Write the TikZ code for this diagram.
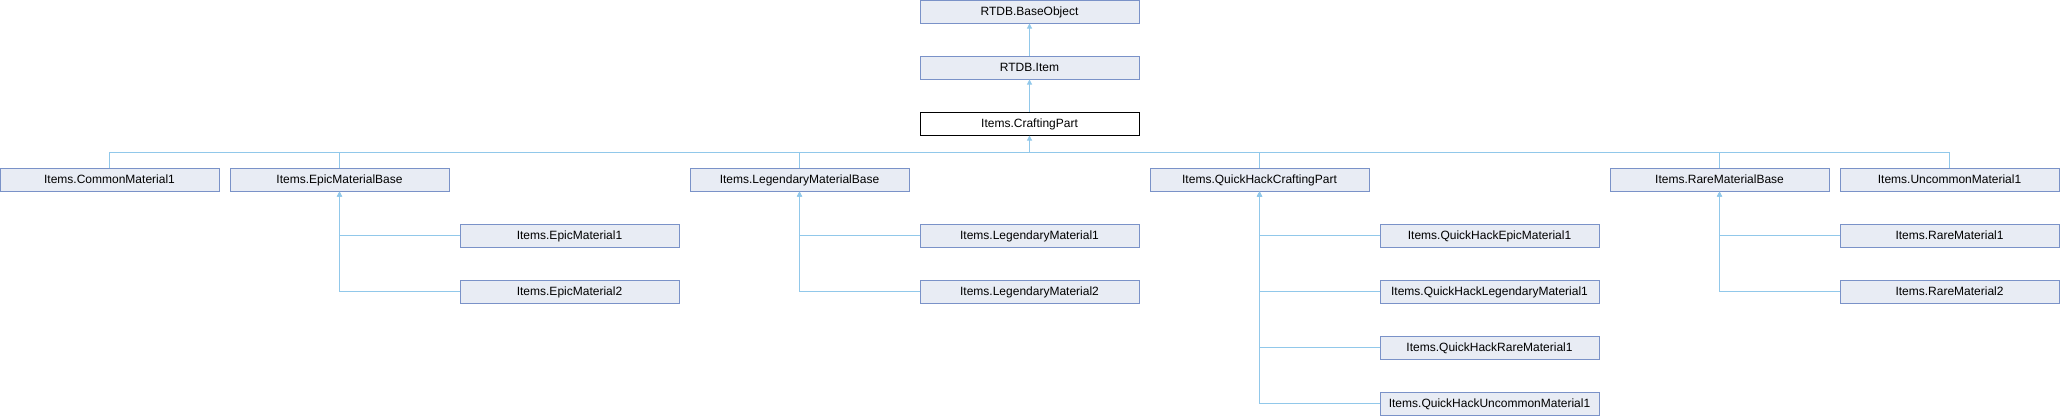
\documentclass[tikz,border=0pt]{standalone}
\usepackage{fontspec}
\setmainfont{Liberation Sans}
\usetikzlibrary{arrows.meta,positioning}
\definecolor{boxfill}{RGB}{232,236,244}
\definecolor{boxline}{RGB}{122,146,200}
\definecolor{inhline}{RGB}{145,200,234}

\begin{document}
\begin{tikzpicture}[x=1pt,y=-1pt,
    cls/.style={draw=boxline,fill=boxfill,line width=1pt,minimum width=219pt,
      minimum height=23pt,inner sep=0pt,text height=8.6pt,text depth=0pt,
      font=\fontsize{12}{14}\selectfont},
    inh/.style={draw=inhline,line width=1pt},
    tip/.style={inh,{Triangle[length=5pt,width=5pt]}-}]
  \useasboundingbox (0,0) rectangle (2060,416);

  \node[cls] (BO) at (1029.5,11.5) {RTDB.BaseObject};
  \node[cls] (It) at (1029.5,67.5) {RTDB.Item};
  \node[cls,draw=black,fill=white] (CP) at (1029.5,123.5) {Items.CraftingPart};
  \coordinate (bus) at (1029.5,152);

  \begin{scope}[every node/.style={cls}]
    \node (Common) at (109.5,179.5) {Items.CommonMaterial1};
    \node (EpicB) at (339.5,179.5) {Items.EpicMaterialBase};
    \node (LegB) at (799.5,179.5) {Items.LegendaryMaterialBase};
    \node (QHB) at (1259.5,179.5) {Items.QuickHackCraftingPart};
    \node (RareB) at (1719.5,179.5) {Items.RareMaterialBase};
    \node (Unc) at (1949.5,179.5) {Items.UncommonMaterial1};

    \node (Epic1) at (569.5,235.5) {Items.EpicMaterial1};
    \node (Epic2) at (569.5,291.5) {Items.EpicMaterial2};
    \node (Leg1) at (1029.5,235.5) {Items.LegendaryMaterial1};
    \node (Leg2) at (1029.5,291.5) {Items.LegendaryMaterial2};
    \node (QHEpic) at (1489.5,235.5) {Items.QuickHackEpicMaterial1};
    \node (QHLeg) at (1489.5,291.5) {Items.QuickHackLegendaryMaterial1};
    \node (QHRare) at (1489.5,347.5) {Items.QuickHackRareMaterial1};
    \node (QHUnc) at (1489.5,403.5) {Items.QuickHackUncommonMaterial1};
    \node (Rare1) at (1949.5,235.5) {Items.RareMaterial1};
    \node (Rare2) at (1949.5,291.5) {Items.RareMaterial2};
  \end{scope}

  % inheritance
  \draw[tip] (BO.south) -- (It.north);
  \draw[tip] (It.south) -- (CP.north);
  \draw[tip] (CP.south) -- (bus);
  \draw[inh] (bus) -| (Common.north) (bus) -| (EpicB.north) (bus) -| (LegB.north)
    (bus) -| (QHB.north) (bus) -| (RareB.north) (bus) -| (Unc.north);
  \draw[tip] (EpicB.south) |- (Epic1.west);
  \draw[tip] (EpicB.south) |- (Epic2.west);
  \draw[tip] (LegB.south) |- (Leg1.west);
  \draw[tip] (LegB.south) |- (Leg2.west);
  \draw[tip] (QHB.south) |- (QHEpic.west);
  \draw[tip] (QHB.south) |- (QHLeg.west);
  \draw[tip] (QHB.south) |- (QHRare.west);
  \draw[tip] (QHB.south) |- (QHUnc.west);
  \draw[tip] (RareB.south) |- (Rare1.west);
  \draw[tip] (RareB.south) |- (Rare2.west);
\end{tikzpicture}
\end{document}
